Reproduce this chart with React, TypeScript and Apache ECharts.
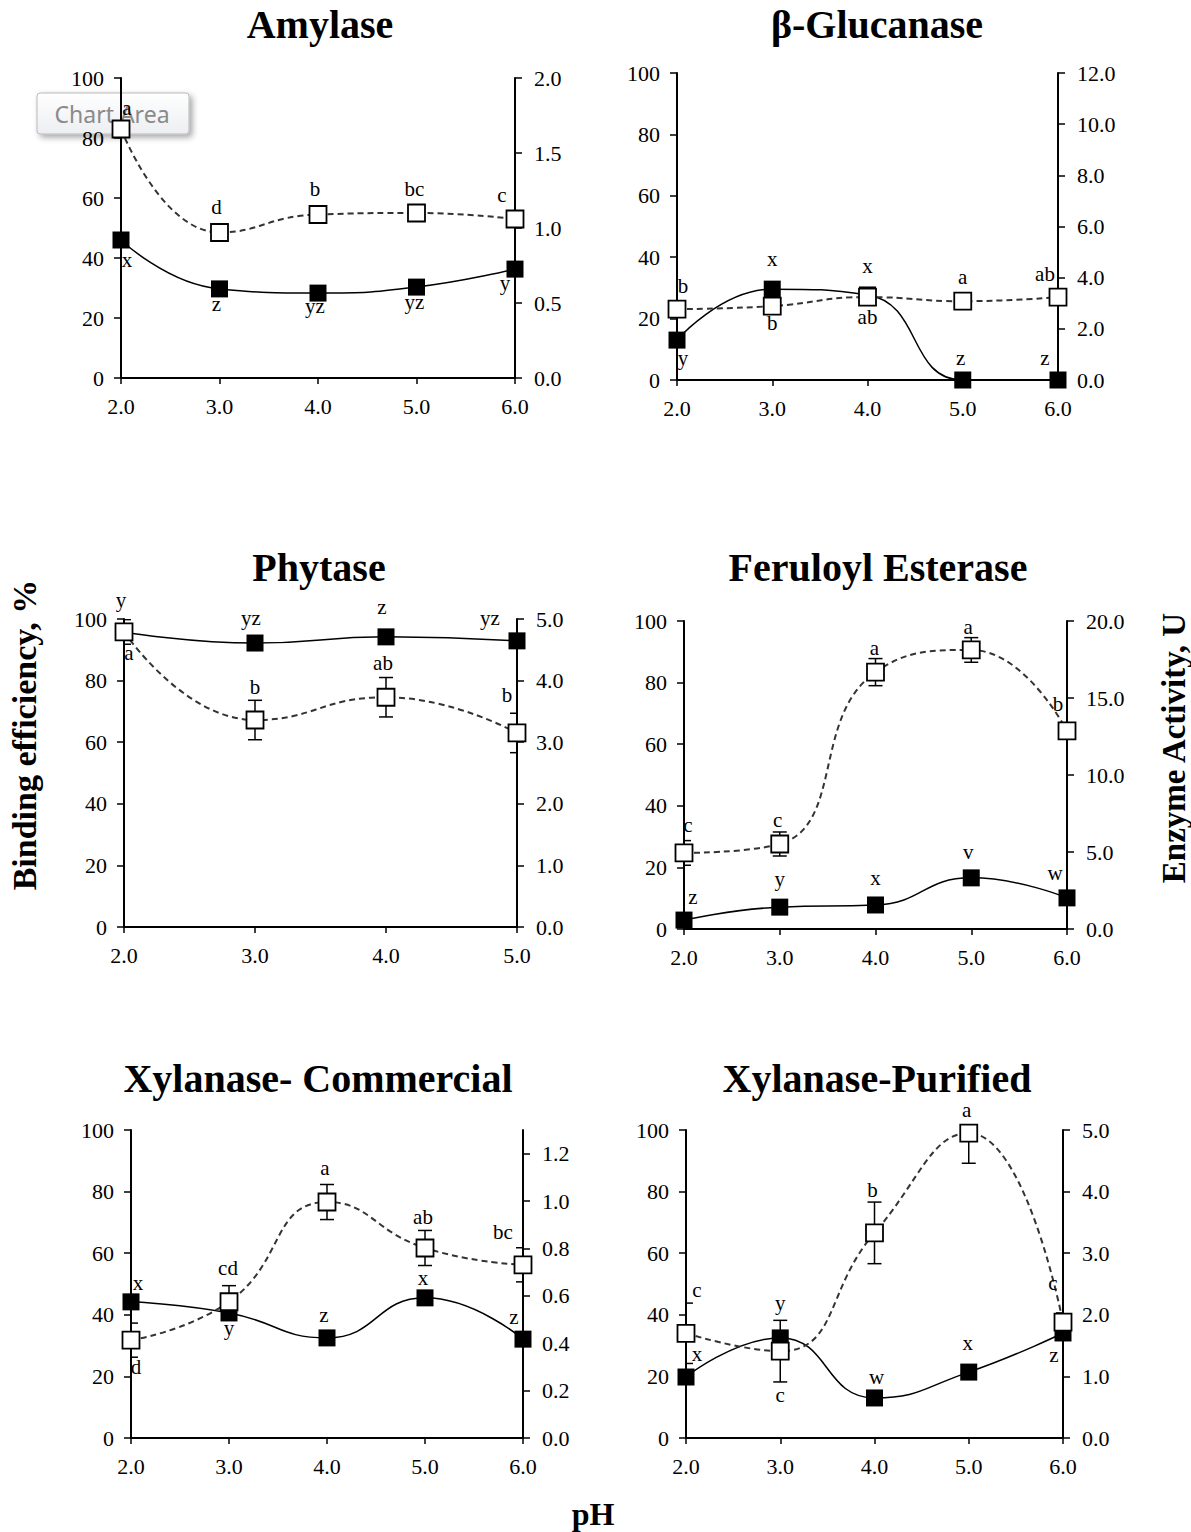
import React, { useEffect, useRef } from 'react';
import * as echarts from 'echarts';

const FONT = '"Liberation Serif", "Times New Roman", serif';

// pH categories
const pH = [2, 3, 4, 5, 6];
const pHPhytase = [2, 3, 4, 5];

// Amylase
const amylaseBinding = [46.0, 29.7, 28.3, 30.3, 36.3];
const amylaseBindingLetters = ['x', 'z', 'yz', 'yz', 'y'];
const amylaseActivity = [1.66, 0.97, 1.09, 1.10, 1.06];
const amylaseActivityLetters = ['a', 'd', 'b', 'bc', 'c'];

// β-Glucanase
const glucanaseBinding = [13.0, 29.6, 27.7, 0, 0];
const glucanaseBindingLetters = ['y', 'x', 'x', 'z', 'z'];
const glucanaseActivity = [2.77, 2.89, 3.24, 3.08, 3.24];
const glucanaseActivityLetters = ['b', 'b', 'ab', 'a', 'ab'];

// Phytase
const phytaseBinding = [95.8, 92.2, 94.2, 92.9];
const phytaseBindingLetters = ['y', 'yz', 'z', 'yz'];
const phytaseActivity = [4.79, 3.36, 3.73, 3.15];
const phytaseActivityErr = [0.2, 0.32, 0.32, 0.32];
const phytaseActivityLetters = ['a', 'b', 'ab', 'b'];

// Feruloyl Esterase
const feruloylBinding = [2.9, 7.1, 7.8, 16.6, 10.1];
const feruloylBindingLetters = ['z', 'y', 'x', 'v', 'w'];
const feruloylActivity = [4.94, 5.52, 16.68, 18.12, 12.86];
const feruloylActivityErr = [0.8, 0.78, 0.88, 0.8, 0.4];
const feruloylActivityLetters = ['c', 'c', 'a', 'a', 'b'];

// Xylanase- Commercial
const xylComBinding = [44.2, 40.6, 32.5, 45.5, 32.1];
const xylComBindingLetters = ['x', 'y', 'z', 'x', 'z'];
const xylComActivity = [0.413, 0.575, 0.996, 0.802, 0.731];
const xylComActivityErr = [0.072, 0.068, 0.074, 0.074, 0.072];
const xylComActivityLetters = ['d', 'cd', 'a', 'ab', 'bc'];
const xylComRightTicks = [0, 0.2, 0.4, 0.6, 0.8, 1.0, 1.2];

// Xylanase-Purified
const xylPurBinding = [19.8, 32.5, 13.0, 21.4, 34.1];
const xylPurBindingLetters = ['x', 'y', 'w', 'x', 'z'];
const xylPurActivity = [1.70, 1.41, 3.33, 4.95, 1.88];
const xylPurActivityErr = [0.49, 0.5, 0.5, 0.49, 0.15];
const xylPurActivityLetters = ['c', 'c', 'b', 'a', 'c'];

// label placement (layout only)
const amylaseBindOff = [[6, 20], [-3, 15], [-3, 13], [-2, 15], [-10, 14]];
const amylaseActOff = [[6, -21], [-3, -26], [-3, -26], [-2, -24], [-13, -24]];
const glucBindOff = [[6, 18], [0, -30], [0, -29], [-2, -22], [-13, -22]];
const glucActOff = [[6, -23], [0, 17], [0, 20], [0, -24], [-13, -23]];
const phyBindOff = [[-3, -32], [-4, -25], [-4, -30], [-27, -23]];
const phyActOff = [[5, 21], [0, -33], [-3, -34], [-10, -38]];
const ferBindOff = [[9, -23], [0, -28], [0, -27], [-3, -26], [-12, -25]];
const ferActOff = [[4, -28], [-2, -24], [-1, -24], [-3, -23], [-9, -27]];
const xcBindOff = [[7, -19], [0, 15], [-3, -23], [-2, -20], [-9, -22]];
const xcActOff = [[5, 27], [-1, -34], [-2, -34], [-2, -31], [-20, -33]];
const xpBindOff = [[11, -23], [0, -35], [2, -21], [-1, -29], [-9, 22]];
const xpActOff = [[11, -43], [0, 44], [-2, -43], [-2, -23], [-10, -39]];

type Panel = {
  title: string;
  tx: number;
  ty: number;
  grid: { left: number; top: number; width: number; height: number };
  xs: number[];
  bind: number[];
  bindL: string[];
  bindOff: number[][];
  act: number[];
  actL: string[];
  actOff: number[][];
  err?: number[];
  rMax: number;
  rInt: number;
  rTicks?: number[];
};

const panels: Panel[] = [
  {
    title: 'Amylase', tx: 320, ty: 24,
    grid: { left: 121, top: 78, width: 394, height: 300 },
    xs: pH, bind: amylaseBinding, bindL: amylaseBindingLetters, bindOff: amylaseBindOff,
    act: amylaseActivity, actL: amylaseActivityLetters, actOff: amylaseActOff,
    rMax: 2, rInt: 0.5,
  },
  {
    title: 'β-Glucanase', tx: 877, ty: 24,
    grid: { left: 677, top: 73, width: 381, height: 307 },
    xs: pH, bind: glucanaseBinding, bindL: glucanaseBindingLetters, bindOff: glucBindOff,
    act: glucanaseActivity, actL: glucanaseActivityLetters, actOff: glucActOff,
    rMax: 12, rInt: 2,
  },
  {
    title: 'Phytase', tx: 319, ty: 567,
    grid: { left: 124, top: 619, width: 393, height: 308 },
    xs: pHPhytase, bind: phytaseBinding, bindL: phytaseBindingLetters, bindOff: phyBindOff,
    act: phytaseActivity, actL: phytaseActivityLetters, actOff: phyActOff, err: phytaseActivityErr,
    rMax: 5, rInt: 1,
  },
  {
    title: 'Feruloyl Esterase', tx: 878, ty: 567,
    grid: { left: 684, top: 621, width: 383, height: 308 },
    xs: pH, bind: feruloylBinding, bindL: feruloylBindingLetters, bindOff: ferBindOff,
    act: feruloylActivity, actL: feruloylActivityLetters, actOff: ferActOff, err: feruloylActivityErr,
    rMax: 20, rInt: 5,
  },
  {
    title: 'Xylanase- Commercial', tx: 318, ty: 1078,
    grid: { left: 131, top: 1130, width: 392, height: 308 },
    xs: pH, bind: xylComBinding, bindL: xylComBindingLetters, bindOff: xcBindOff,
    act: xylComActivity, actL: xylComActivityLetters, actOff: xcActOff, err: xylComActivityErr,
    rMax: 1.3, rInt: 0.2, rTicks: xylComRightTicks,
  },
  {
    title: 'Xylanase-Purified', tx: 877, ty: 1078,
    grid: { left: 686, top: 1130, width: 377, height: 308 },
    xs: pH, bind: xylPurBinding, bindL: xylPurBindingLetters, bindOff: xpBindOff,
    act: xylPurActivity, actL: xylPurActivityLetters, actOff: xpActOff, err: xylPurActivityErr,
    rMax: 5, rInt: 1,
  },
];

const axisLineStyle = { color: '#000', width: 2 };
const tickStyle = { color: '#000', width: 1.5 };
const labelBase = { fontSize: 22, fontFamily: FONT, color: '#000' };

function errorRender(params: any, api: any) {
  const x = api.value(0);
  const y = api.value(1);
  const e = api.value(2);
  if (!e) return null;
  const top = api.coord([x, y + e]);
  const bot = api.coord([x, y - e]);
  const w = 7;
  const style = { stroke: '#000', lineWidth: 1.5, fill: null };
  return {
    type: 'group',
    children: [
      { type: 'line', shape: { x1: top[0], y1: top[1], x2: bot[0], y2: bot[1] }, style },
      { type: 'line', shape: { x1: top[0] - w, y1: top[1], x2: top[0] + w, y2: top[1] }, style },
      { type: 'line', shape: { x1: bot[0] - w, y1: bot[1], x2: bot[0] + w, y2: bot[1] }, style },
    ],
  };
}

function buildOption() {
  const grid: any[] = [];
  const xAxis: any[] = [];
  const yAxis: any[] = [];
  const series: any[] = [];
  const graphic: any[] = [];

  panels.forEach((p, i) => {
    grid.push({ ...p.grid, containLabel: false, outerBoundsMode: 'none' });
    xAxis.push({
      type: 'value', gridIndex: i, min: 2, max: p.xs[p.xs.length - 1], interval: 1,
      axisLine: { show: true, onZero: false, lineStyle: axisLineStyle },
      axisTick: { show: true, length: 6, lineStyle: tickStyle },
      axisLabel: { ...labelBase, margin: 17, formatter: (v: number) => v.toFixed(1) },
      splitLine: { show: false },
    });
    yAxis.push({
      type: 'value', gridIndex: i, position: 'left', min: 0, max: 100, interval: 20,
      axisLine: { show: true, onZero: false, lineStyle: axisLineStyle },
      axisTick: { show: true, length: 7, lineStyle: tickStyle },
      axisLabel: { ...labelBase, margin: 17 },
      splitLine: { show: false },
    });
    const right: any = {
      type: 'value', gridIndex: i, position: 'right', min: 0, max: p.rMax, interval: p.rInt,
      axisLine: { show: true, onZero: false, lineStyle: axisLineStyle },
      axisTick: { show: true, length: 7, lineStyle: tickStyle },
      axisLabel: { ...labelBase, margin: 19, formatter: (v: number) => v.toFixed(1) },
      splitLine: { show: false },
    };
    if (p.rTicks) {
      right.axisTick.customValues = p.rTicks;
      right.axisLabel.customValues = p.rTicks;
    }
    yAxis.push(right);

    series.push({
      type: 'line', name: p.title + ' binding', xAxisIndex: i, yAxisIndex: 2 * i,
      smooth: true, symbol: 'rect', symbolSize: 17, showAllSymbol: true,
      itemStyle: { color: '#000' },
      lineStyle: { color: '#000', width: 1.5 },
      label: { show: false, fontSize: 21, fontFamily: FONT, color: '#000' },
      emphasis: { disabled: true },
      z: 2,
      data: p.xs.map((x, j) => ({
        value: [x, p.bind[j]],
        label: { show: true, formatter: p.bindL[j], position: 'inside', offset: p.bindOff[j], fontSize: 21, fontFamily: FONT, color: '#000' },
      })),
    });
    if (p.err) {
      series.push({
        type: 'custom', name: p.title + ' error', xAxisIndex: i, yAxisIndex: 2 * i + 1,
        renderItem: errorRender, clip: true, z: 3,
        encode: { x: 0, y: 1 },
        data: p.xs.map((x, j) => [x, p.act[j], p.err![j]]),
      });
    }
    series.push({
      type: 'line', name: p.title + ' activity', xAxisIndex: i, yAxisIndex: 2 * i + 1,
      smooth: true, symbol: 'rect', symbolSize: 17, showAllSymbol: true,
      itemStyle: { color: '#fff', borderColor: '#000', borderWidth: 1.8 },
      lineStyle: { color: '#333', width: 2, type: [6, 4] },
      label: { show: false },
      emphasis: { disabled: true },
      z: 4,
      data: p.xs.map((x, j) => ({
        value: [x, p.act[j]],
        label: { show: true, formatter: p.actL[j], position: 'inside', offset: p.actOff[j], fontSize: 21, fontFamily: FONT, color: '#000' },
      })),
    });

    graphic.push({
      type: 'text', x: p.tx, y: p.ty,
      style: {
        text: p.title, fontSize: 40, fontWeight: 'bold', fontFamily: FONT, fill: '#000',
        align: 'center', verticalAlign: 'middle', textAlign: 'center', textVerticalAlign: 'middle',
      },
    });
  });

  graphic.push(
    {
      type: 'text', x: 24, y: 735, rotation: Math.PI / 2,
      style: {
        text: 'Binding efficiency, %', fontSize: 34, fontWeight: 'bold', fontFamily: FONT, fill: '#000',
        align: 'center', verticalAlign: 'middle', textAlign: 'center', textVerticalAlign: 'middle',
      },
    },
    {
      type: 'text', x: 1174, y: 748, rotation: Math.PI / 2,
      style: {
        text: 'Enzyme Activity, U', fontSize: 33, fontWeight: 'bold', fontFamily: FONT, fill: '#000',
        align: 'center', verticalAlign: 'middle', textAlign: 'center', textVerticalAlign: 'middle',
      },
    },
    {
      type: 'text', x: 593, y: 1514,
      style: {
        text: 'pH', fontSize: 32, fontWeight: 'bold', fontFamily: FONT, fill: '#000',
        align: 'center', verticalAlign: 'middle', textAlign: 'center', textVerticalAlign: 'middle',
      },
    },
    {
      type: 'rect', z: -1,
      shape: { x: 37, y: 93, width: 152, height: 41, r: 3 },
      style: {
        fill: {
          type: 'linear', x: 0, y: 0, x2: 0, y2: 1,
          colorStops: [{ offset: 0, color: '#ffffff' }, { offset: 1, color: '#eceef1' }],
        },
        stroke: '#b9b9b9', lineWidth: 1,
        shadowBlur: 6, shadowOffsetX: 3, shadowOffsetY: 3, shadowColor: 'rgba(0,0,0,0.35)',
      },
    },
    {
      type: 'text', z: -1, x: 112, y: 114,
      style: {
        text: 'Chart Area', fontSize: 23, fontFamily: '"Noto Sans", "Open Sans", sans-serif', fill: '#8a8a8a',
        align: 'center', verticalAlign: 'middle', textAlign: 'center', textVerticalAlign: 'middle',
      },
    }
  );

  return {
    animation: false,
    backgroundColor: '#fff',
    grid, xAxis, yAxis, series, graphic,
  };
}

export default function App() {
  const ref = useRef<HTMLDivElement>(null);
  useEffect(() => {
    const chart = echarts.init(ref.current!, null, { renderer: 'svg' });
    chart.setOption(buildOption() as any);
    return () => chart.dispose();
  }, []);
  return (
    <div
      ref={ref}
      style={{ position: 'absolute', left: 0, top: 0, width: 1191, height: 1532, background: '#fff' }}
    />
  );
}
